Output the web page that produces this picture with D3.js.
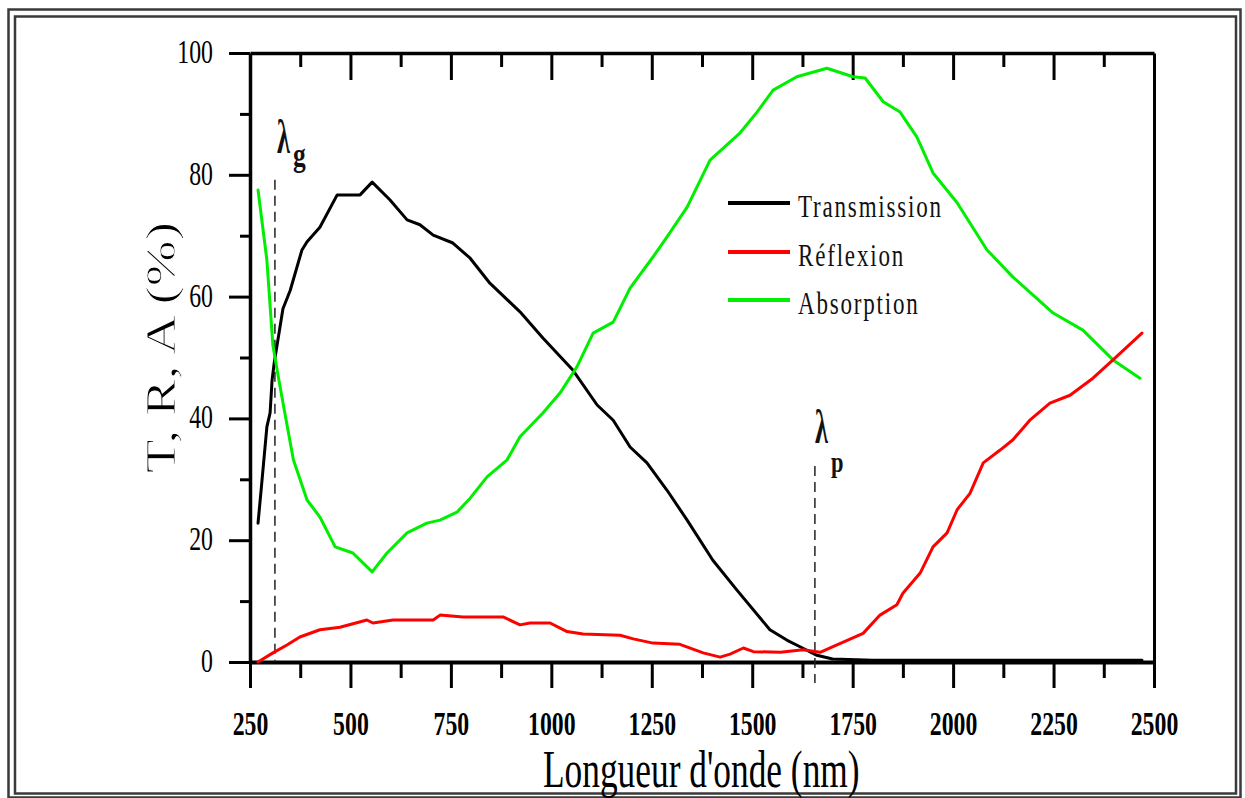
<!DOCTYPE html>
<html><head><meta charset="utf-8">
<script src="https://cdn.jsdelivr.net/npm/d3@7"></script>
<style>html,body{margin:0;padding:0;background:#fff;overflow:hidden}</style>
</head><body><svg id="c" width="1245" height="798"></svg>
<script>
// ---- data ----
const lambdaT = [270,280,292,300,305,310,332,350,379,392,424,467,524,554,598,641,673,706,755,798,847,922,979,1054,1114,1154,1196,1238,1288,1338,1402,1462,1544,1586,1619,1661,1700,1800,2000,2200,2470];
const transmission = [22.8,29.9,38.6,40.9,46.3,49,58,61,67.6,69,71.4,76.7,76.7,78.8,75.9,72.6,71.8,70.1,68.8,66.3,62.2,57.5,53.2,47.9,42.2,39.7,35.3,32.7,28.2,23.3,16.7,11.8,5.3,3.6,2.5,1.1,0.5,0.3,0.3,0.3,0.3];
const lambdaR = [270,307,342,374,424,474,541,556,606,706,723,780,880,922,947,997,1039,1079,1171,1204,1253,1320,1378,1420,1445,1478,1503,1570,1627,1669,1694,1776,1818,1860,1875,1918,1950,1985,2010,2042,2075,2117,2149,2191,2241,2291,2348,2398,2470];
const reflexion = [0,1.5,2.8,4.1,5.3,5.7,6.9,6.4,6.9,6.9,7.7,7.4,7.4,6.1,6.4,6.4,5.0,4.6,4.4,3.8,3.1,2.9,1.5,0.8,1.3,2.3,1.7,1.6,2.0,1.6,2.3,4.7,7.7,9.4,11.3,14.6,18.9,21.2,25.0,27.7,32.7,34.8,36.5,39.7,42.5,43.8,46.6,49.6,54.0];
const lambdaA = [270,292,307,320,335,358,392,424,462,506,554,591,641,690,723,765,798,840,890,922,979,1022,1064,1104,1154,1196,1253,1288,1338,1395,1470,1512,1552,1611,1686,1751,1781,1826,1868,1910,1950,2010,2084,2149,2249,2323,2398,2465];
const absorption = [77.5,66,52,47,41.5,33.2,26.6,23.8,18.9,17.9,14.8,17.9,21.2,22.8,23.3,24.6,26.9,30.4,33.2,37.0,40.9,44.2,48.5,54.0,55.8,61.4,66.5,69.8,74.7,82.4,86.9,90.3,93.9,96.1,97.5,96.1,95.9,92.0,90.3,86.2,80.3,75.4,67.7,63.2,57.3,54.5,49.6,46.6];
const seriesNames = ["Transmission","Réflexion","Absorption"];
const seriesColors = ["#000000","#ff0000","#00ee00"];
const xMajor = [250,500,750,1000,1250,1500,1750,2000,2250,2500];
const xMinor = [375,625,875,1125,1375,1625,1875,2125,2375];
const yMajor = [0,20,40,60,80,100];
const yMinor = [10,30,50,70,90];
const lambdaG = 312, lambdaP = 1656;
const xTitle = "Longueur d'onde (nm)";
const yTitle = "T, R, A (%)";

// ---- drawing ----
const FONT = "'Liberation Serif','Times New Roman',serif";
const svg = d3.select("#c");
const x = d3.scaleLinear().domain([250,2500]).range([250,1154]);
const y = d3.scaleLinear().domain([0,100]).range([662,53]);

// frame
svg.append("rect").attr("x",8.5).attr("y",9.5).attr("width",1232).attr("height",788)
  .attr("fill","none").attr("stroke","#3a3a3a").attr("stroke-width",2.5);
svg.append("rect").attr("x",15).attr("y",16.5).attr("width",1221).attr("height",777)
  .attr("fill","none").attr("stroke","#3a3a3a").attr("stroke-width",2.5);

function styleAxis(g, w){
  g.selectAll("path.domain").attr("stroke","#000").attr("stroke-width",w);
  g.selectAll(".tick line").attr("stroke","#000").attr("stroke-width",3);
}

// bottom axis
const gb = svg.append("g").attr("transform",`translate(0,${y(0)})`)
  .call(d3.axisBottom(x).tickValues(xMajor).tickSize(26).tickSizeOuter(0).tickFormat(d3.format("d")));
styleAxis(gb,4);
gb.selectAll(".tick text").attr("y",73).attr("dy",null)
  .attr("font-family",FONT).attr("font-size",34).attr("font-weight","bold").attr("fill","#000")
  .attr("transform","scale(0.7,1)");
const gbm = svg.append("g").attr("transform",`translate(0,${y(0)})`)
  .call(d3.axisBottom(x).tickValues(xMinor).tickSize(16).tickFormat(""));
gbm.select("path.domain").remove(); styleAxis(gbm,3);

// top axis
const gt = svg.append("g").attr("transform",`translate(0,${y(100)})`)
  .call(d3.axisTop(x).tickValues(xMajor.slice(1,-1)).tickSize(-27).tickSizeOuter(0).tickFormat(""));
styleAxis(gt,3.5);
const gtm = svg.append("g").attr("transform",`translate(0,${y(100)})`)
  .call(d3.axisTop(x).tickValues(xMinor).tickSize(-14).tickFormat(""));
gtm.select("path.domain").remove(); styleAxis(gtm,3);

// left axis
const gl = svg.append("g").attr("transform",`translate(${x(250)},0)`)
  .call(d3.axisLeft(y).tickValues(yMajor).tickSize(21).tickSizeOuter(0).tickFormat(d3.format("d")));
styleAxis(gl,3.5);
gl.selectAll(".tick text").attr("x",-37/0.7).attr("dy","0.28em")
  .attr("font-family",FONT).attr("font-size",34).attr("fill","#000")
  .attr("transform","scale(0.7,1)");
const glm = svg.append("g").attr("transform",`translate(${x(250)},0)`)
  .call(d3.axisLeft(y).tickValues(yMinor).tickSize(10).tickFormat(""));
glm.select("path.domain").remove(); styleAxis(glm,3);

// right axis
const gr = svg.append("g").attr("transform",`translate(${x(2500)},0)`)
  .call(d3.axisRight(y).tickValues([]).tickSizeOuter(0));
styleAxis(gr,3);

// dashed markers
svg.append("line").attr("x1",x(lambdaG)).attr("x2",x(lambdaG)).attr("y1",y(79.2)).attr("y2",y(0))
  .attr("stroke","#222").attr("stroke-width",1.5).attr("stroke-dasharray","10,6");
svg.append("line").attr("x1",x(lambdaP)).attr("x2",x(lambdaP)).attr("y1",y(32.2)).attr("y2",y(0)+21)
  .attr("stroke","#222").attr("stroke-width",1.5).attr("stroke-dasharray","10,6");

// curves
const line = d3.line().x(d=>x(d[0])).y(d=>y(d[1]));
const series = [
  d3.zip(lambdaT, transmission),
  d3.zip(lambdaR, reflexion),
  d3.zip(lambdaA, absorption)
];
[0,2,1].forEach(i=>{
  svg.append("path").datum(series[i]).attr("d",line).attr("fill","none")
    .attr("stroke",seriesColors[i]).attr("stroke-width",3)
    .attr("stroke-linejoin","round").attr("stroke-linecap","round");
});

// legend
const legY = [203,252,300];
seriesNames.forEach((n,i)=>{
  svg.append("line").attr("x1",728).attr("x2",790).attr("y1",legY[i]).attr("y2",legY[i])
    .attr("stroke",seriesColors[i]).attr("stroke-width",4);
  svg.append("text").attr("transform",`translate(798,${legY[i]+14}) scale(0.72,1)`)
    .attr("font-family",FONT).attr("font-size",32).attr("letter-spacing",2.5).attr("fill","#111")
    .text(n);
});

// lambda labels
function lam(px, base, sub, subBase, subSize){
  svg.append("text").attr("transform",`translate(${px},${base}) scale(0.55,1)`)
    .attr("font-family",FONT).attr("font-size",48).attr("font-weight","bold").attr("fill","#111").text("λ");
  svg.append("text").attr("transform",`translate(${px+16},${subBase}) scale(0.75,1)`)
    .attr("font-family",FONT).attr("font-size",subSize).attr("font-weight","bold").attr("fill","#111").text(sub);
}
lam(x(lambdaG)+2, 153, "g", 166, 34);
lam(x(lambdaP), 443, "p", 472, 30);

// axis titles
svg.append("text").attr("transform","translate(543,787) scale(0.68,1)")
  .attr("font-family",FONT).attr("font-size",52).attr("fill","#000").text(xTitle);
svg.append("text").attr("transform","translate(175,347.5) scale(0.78,1) rotate(-90)")
  .attr("text-anchor","middle").attr("font-family",FONT).attr("font-size",55).attr("fill","#000")
  .attr("stroke","#fff").attr("stroke-width",1.2).attr("paint-order","stroke fill")
  .attr("style","paint-order:normal").text(yTitle);
</script></body></html>
